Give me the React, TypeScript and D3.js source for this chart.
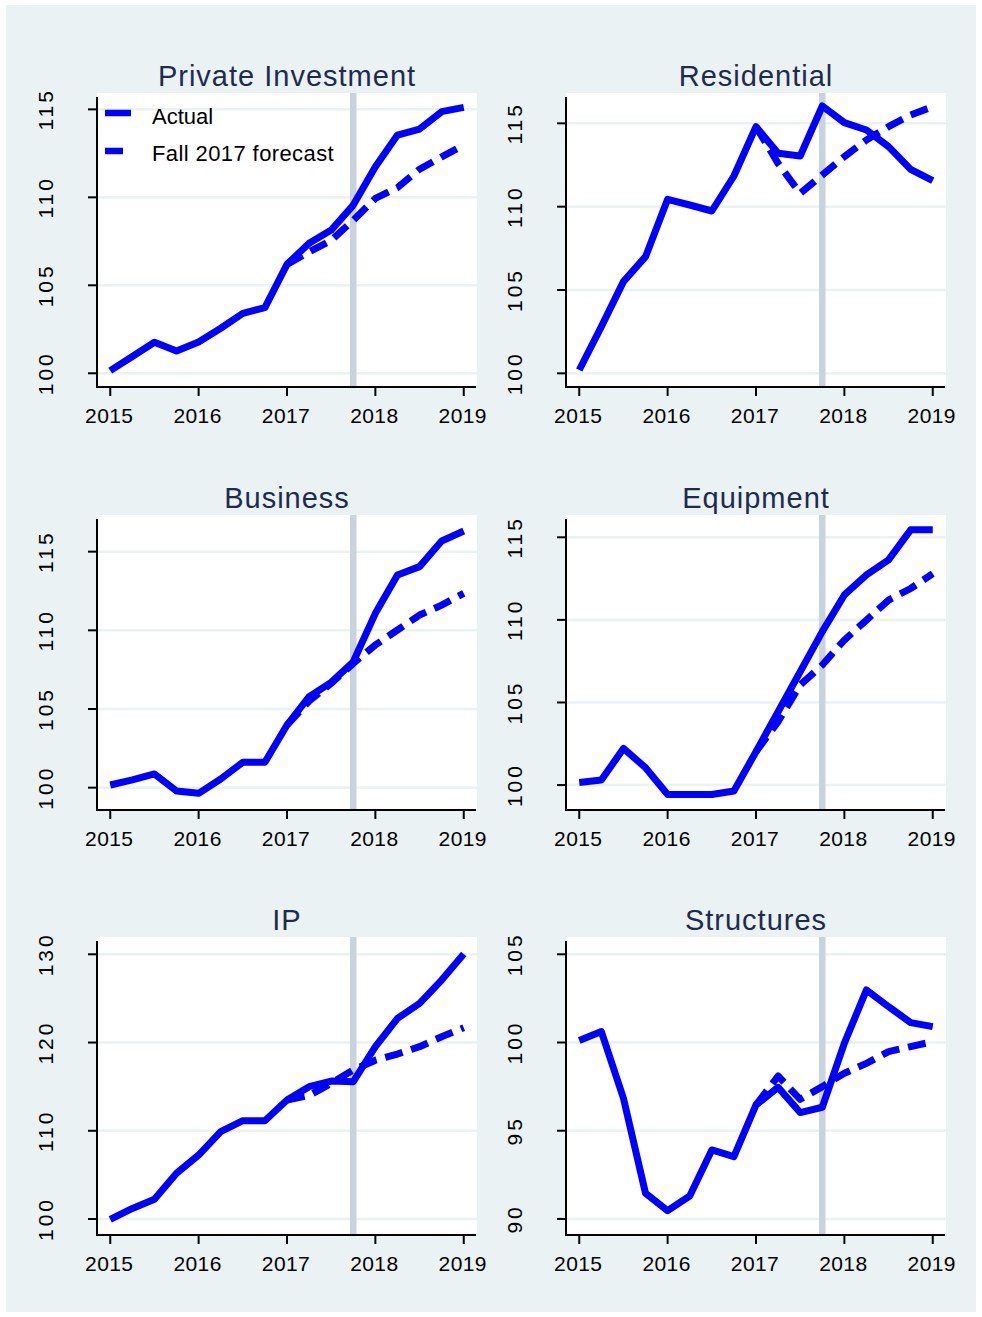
import * as d3 from "d3";

// quarterly index values, 2015Q1 = 100
const quarters = [
  2015, 2015.25, 2015.5, 2015.75, 2016, 2016.25, 2016.5, 2016.75,
  2017, 2017.25, 2017.5, 2017.75, 2018, 2018.25, 2018.5, 2018.75, 2019,
];
const forecastQuarters = quarters.slice(8);
const xTicks = [2015, 2016, 2017, 2018, 2019];
const forecastDate = 2017.75;

const piActual = [100.15, 100.95, 101.76, 101.27, 101.78, 102.56, 103.41, 103.73, 106.19, 107.39, 108.14, 109.56, 111.74, 113.54, 113.88, 114.87, 115.11];
const piForecast = [106.19, 106.9, 107.55, 108.7, 109.94, 110.55, 111.6, 112.3, 112.97];

const resActual = [100.2, 102.8, 105.5, 107.0, 110.44, 110.1, 109.74, 111.84, 114.8, 113.2, 113.04, 116.04, 115.04, 114.6, 113.6, 112.24, 111.56];
const resForecast = [114.8, 112.6, 110.8, 111.9, 113.0, 114.0, 114.8, 115.5, 116.0];

const busActual = [100.17, 100.49, 100.87, 99.79, 99.64, 100.55, 101.61, 101.61, 103.98, 105.78, 106.69, 108.0, 111.08, 113.52, 114.05, 115.68, 116.31];
const busForecast = [103.98, 105.5, 106.63, 107.9, 109.07, 110.02, 110.97, 111.6, 112.35];

const eqActual = [100.16, 100.3, 102.22, 101.05, 99.43, 99.43, 99.43, 99.64, 102.02, 104.44, 106.86, 109.29, 111.51, 112.72, 113.63, 115.45, 115.45];
const eqForecast = [102.02, 103.84, 106.06, 107.27, 108.78, 109.99, 111.2, 111.9, 112.8];

const ipActual = [99.96, 101.2, 102.23, 105.18, 107.25, 109.9, 111.14, 111.14, 113.49, 115.0, 115.63, 115.56, 119.53, 122.74, 124.43, 127.08, 130.03];
const ipForecast = [113.49, 114.0, 115.38, 116.89, 118.0, 118.7, 119.53, 120.66, 121.68];

const strActual = [100.11, 100.62, 96.84, 91.45, 90.47, 91.3, 93.91, 93.53, 96.46, 97.46, 96.03, 96.33, 99.96, 102.98, 102.03, 101.13, 100.9];
const strForecast = [96.46, 98.1, 96.78, 97.5, 98.26, 98.82, 99.48, 99.77, 100.05];

const ticks100to115 = [100, 105, 110, 115];
const ipTicks = [100, 110, 120, 130];
const strTicks = [90, 95, 100, 105];

const panels = [
  { title: "Private Investment", actual: piActual, forecast: piForecast, ticks: ticks100to115, domain: [99.22, 115.93], legend: true },
  { title: "Residential", actual: resActual, forecast: resForecast, ticks: ticks100to115, domain: [99.18, 116.82] },
  { title: "Business", actual: busActual, forecast: busForecast, ticks: ticks100to115, domain: [98.58, 117.33] },
  { title: "Equipment", actual: eqActual, forecast: eqForecast, ticks: ticks100to115, domain: [98.49, 116.35] },
  { title: "IP", actual: ipActual, forecast: ipForecast, ticks: ipTicks, domain: [98.19, 131.96] },
  { title: "Structures", actual: strActual, forecast: strForecast, ticks: strTicks, domain: [89.09, 105.98] },
];

const W = 982;
const H = 1317;
const colLeft = [97, 566];
const plotW = 380;
const rowTop = [93, 515, 937];
const rowBottom = [387, 810, 1235];

const BLUE = "#0000ff";
const BG = "#eaf2f3";
const FONT = "'Liberation Sans', Arial, sans-serif";

function Panel({ p, i }: { p: (typeof panels)[number]; i: number }) {
  const left = colLeft[i % 2];
  const top = rowTop[Math.floor(i / 2)];
  const bottom = rowBottom[Math.floor(i / 2)];
  const right = left + plotW;

  const x = d3.scaleLinear().domain([2014.85, 2019.15]).range([left, right]);
  const y = d3.scaleLinear().domain(p.domain).range([bottom, top]);

  const line = d3
    .line<[number, number]>()
    .x((d) => x(d[0]))
    .y((d) => y(d[1]));

  const actualPts = quarters.map((q, k) => [q, p.actual[k]] as [number, number]);
  const fcPts = forecastQuarters.map((q, k) => [q, p.forecast[k]] as [number, number]);

  return (
    <g>
      <rect x={left} y={top} width={plotW} height={bottom - top} fill="#ffffff" />
      {p.ticks.map((t) => (
        <line key={"g" + t} x1={left} x2={right} y1={y(t)} y2={y(t)} stroke={BG} strokeWidth={2.5} />
      ))}
      <line x1={x(forecastDate)} x2={x(forecastDate)} y1={top} y2={bottom} stroke="#c8d3de" strokeWidth={6.5} />
      <path d={line(actualPts) ?? ""} fill="none" stroke={BLUE} strokeWidth={7} strokeLinejoin="round" />
      <path d={line(fcPts) ?? ""} fill="none" stroke={BLUE} strokeWidth={7} strokeDasharray="18 9" strokeLinejoin="round" />

      {/* axes */}
      <line x1={left} x2={left} y1={top + 4} y2={bottom + 1} stroke="#000" strokeWidth={2} />
      <line x1={left - 1} x2={right - 1} y1={bottom} y2={bottom} stroke="#000" strokeWidth={2} />
      {p.ticks.map((t) => (
        <g key={"y" + t}>
          <line x1={left - 9} x2={left} y1={y(t)} y2={y(t)} stroke="#000" strokeWidth={2} />
          <text
            transform={`translate(${left - 44},${y(t)}) rotate(-90)`}
            textAnchor="middle"
            fontSize={21}
            letterSpacing={3}
            fontFamily={FONT}
            fill="#000"
          >
            {t}
          </text>
        </g>
      ))}
      {xTicks.map((t) => (
        <g key={"x" + t}>
          <line x1={x(t)} x2={x(t)} y1={bottom} y2={bottom + 9} stroke="#000" strokeWidth={2} />
          <text x={x(t) - 1} y={bottom + 36} textAnchor="middle" fontSize={21} letterSpacing={0.4} fontFamily={FONT} fill="#000">
            {t}
          </text>
        </g>
      ))}

      <text x={(left + right) / 2} y={top - 7} textAnchor="middle" fontSize={29} letterSpacing={1} fontFamily={FONT} fill="#1e2b4e">
        {p.title}
      </text>

      {p.legend && (
        <g fontFamily={FONT} fontSize={22} fill="#000">
          <line x1={left + 8} x2={left + 34} y1={top + 20} y2={top + 20} stroke={BLUE} strokeWidth={6.5} />
          <text x={left + 55} y={top + 31}>Actual</text>
          <line x1={left + 8} x2={left + 34} y1={top + 58} y2={top + 58} stroke={BLUE} strokeWidth={6.5} strokeDasharray="18 9" />
          <text x={left + 55} y={top + 68} letterSpacing={0.4}>Fall 2017 forecast</text>
        </g>
      )}
    </g>
  );
}

export default function App() {
  return (
    <svg width={W} height={H} style={{ position: "absolute", left: 0, top: 0 }}>
      <rect x={0} y={0} width={W} height={H} fill="#ffffff" />
      <rect x={6} y={5} width={970} height={1307} fill={BG} />
      {panels.map((p, i) => (
        <Panel key={p.title} p={p} i={i} />
      ))}
    </svg>
  );
}
